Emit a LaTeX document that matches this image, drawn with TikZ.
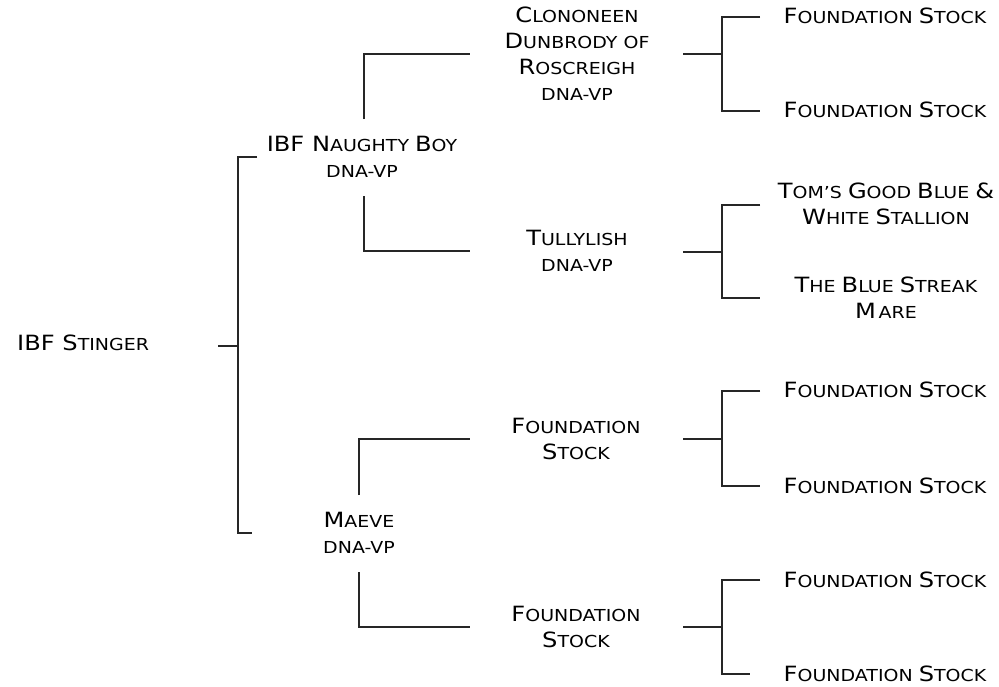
\documentclass[tikz,border=0pt]{standalone}
\usepackage{fontspec}
\setmainfont[FakeStretch=1.15]{DejaVu Sans}
\newcommand\Lc[1]{{\fontsize{21}{26}\selectfont #1}}
\tikzset{
  lbl/.style={font=\fontsize{16.5}{26}\selectfont, align=center, inner sep=0pt, text=black},
  link/.style={draw=black!85, line width=1.4pt}
}
\begin{document}
\begin{tikzpicture}[x=1pt,y=-1pt]
\useasboundingbox[fill=white] (0,0) rectangle (999,686);
% nodes
\node[lbl,anchor=west] (root) at (17,343) {\Lc{IBF S}TINGER};
\node[lbl] (nb) at (362,157) {\Lc{IBF N}AUGHTY \Lc{B}OY\\DNA-VP};
\node[lbl] (mae) at (359,533) {\Lc{M}AEVE\\DNA-VP};
\node[lbl] (clo) at (577,54) {\Lc{C}LONONEEN\\\Lc{D}UNBRODY OF\\\Lc{R}OSCREIGH\\DNA-VP};
\node[lbl] (tul) at (577,251) {\Lc{T}ULLYLISH\\DNA-VP};
\node[lbl] (fs1) at (576,439) {\Lc{F}OUNDATION\\\Lc{S}TOCK};
\node[lbl] (fs2) at (576,627) {\Lc{F}OUNDATION\\\Lc{S}TOCK};
\node[lbl] (r1) at (885,16) {\Lc{F}OUNDATION \Lc{S}TOCK};
\node[lbl] (r2) at (885,110) {\Lc{F}OUNDATION \Lc{S}TOCK};
\node[lbl] (r3) at (886,204) {\Lc{T}OM'S \Lc{G}OOD \Lc{B}LUE \Lc{\&}\\\Lc{W}HITE \Lc{S}TALLION};
\node[lbl] (r4) at (886,298) {\Lc{T}HE \Lc{B}LUE \Lc{S}TREAK\\\Lc{M}\,ARE};
\node[lbl] (r5) at (885,390) {\Lc{F}OUNDATION \Lc{S}TOCK};
\node[lbl] (r6) at (885,486) {\Lc{F}OUNDATION \Lc{S}TOCK};
\node[lbl] (r7) at (885,580) {\Lc{F}OUNDATION \Lc{S}TOCK};
\node[lbl] (r8) at (885,674) {\Lc{F}OUNDATION \Lc{S}TOCK};
% junction coordinates
\coordinate (rs) at (218,346);
\coordinate (rj) at (238,346);
\coordinate (rt) at (238,157);
\coordinate (rb) at (238,533);
\coordinate (nbt) at (364,119);
\coordinate (nbb) at (364,196);
\coordinate (mat) at (359,495);
\coordinate (mab) at (359,572);
% root bracket
\draw[link] (rs) -- (rj);
\draw[link] (257,157) -- (rt) -- (rb) -- (252,533);
% second level
\draw[link] (nbt) -- (nbt |- 0,54) -- (470,54);
\draw[link] (nbb) -- (nbb |- 0,251) -- (470,251);
\draw[link] (mat) -- (mat |- 0,439) -- (470,439);
\draw[link] (mab) -- (mab |- 0,627) -- (470,627);
% third level brackets
\foreach \m/\t/\b/\e in {54/17/111/760, 252/205/298/760, 439/391/486/760, 627/580/674/750}{
  \draw[link] (683,\m) -- (722,\m);
  \draw[link] (760,\t) -- (722,\t) -- (722,\b) -- (\e,\b);
}
\end{tikzpicture}
\end{document}
